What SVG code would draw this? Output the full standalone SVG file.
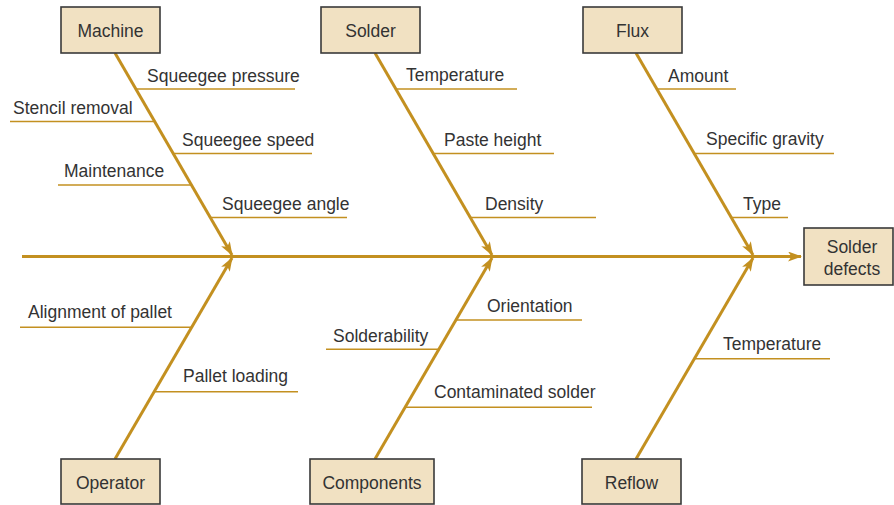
<svg xmlns="http://www.w3.org/2000/svg" width="894" height="505" viewBox="0 0 894 505">
<style>
.box{fill:#F1E1C2;stroke:#3a3a3a;stroke-width:1.6}
.bone{stroke:#C39020;stroke-width:3;fill:none}
.sub{stroke:#C39020;stroke-width:1.6;fill:none}
text{font-family:"Liberation Sans",Arial,sans-serif;font-size:17.5px;fill:#333}
.c{text-anchor:middle}
</style>
<defs>
<marker id="ah" viewBox="0 0 14 10" refX="13" refY="5" markerWidth="14" markerHeight="10" markerUnits="userSpaceOnUse" orient="auto">
<path d="M0,0 L14,5 L0,10 L3.5,5 z" fill="#C39020"/>
</marker>
</defs>
<rect width="894" height="505" fill="#fff"/>
<g id="connectors">
<line class="bone" x1="22" y1="256.5" x2="801" y2="256.5" marker-end="url(#ah)"/>
<line class="bone" x1="115" y1="53" x2="232" y2="255" marker-end="url(#ah)"/>
<line class="bone" x1="375" y1="53" x2="492" y2="255" marker-end="url(#ah)"/>
<line class="bone" x1="636" y1="53" x2="753" y2="255" marker-end="url(#ah)"/>
<line class="bone" x1="115" y1="459" x2="232" y2="258" marker-end="url(#ah)"/>
<line class="bone" x1="375" y1="459" x2="492" y2="258" marker-end="url(#ah)"/>
<line class="bone" x1="636" y1="459" x2="753" y2="258" marker-end="url(#ah)"/>
<line class="sub" x1="136" y1="89" x2="295" y2="89"/>
<line class="sub" x1="10" y1="121.5" x2="154" y2="121.5"/>
<line class="sub" x1="173" y1="153.5" x2="312" y2="153.5"/>
<line class="sub" x1="58" y1="185" x2="191" y2="185"/>
<line class="sub" x1="210" y1="217.5" x2="347" y2="217.5"/>
<line class="sub" x1="396" y1="89" x2="517" y2="89"/>
<line class="sub" x1="433" y1="153.5" x2="554" y2="153.5"/>
<line class="sub" x1="471" y1="217.5" x2="596" y2="217.5"/>
<line class="sub" x1="657" y1="89" x2="736" y2="89"/>
<line class="sub" x1="694" y1="153.5" x2="834" y2="153.5"/>
<line class="sub" x1="732" y1="217.5" x2="788" y2="217.5"/>
<line class="sub" x1="20" y1="327.3" x2="191" y2="327.3"/>
<line class="sub" x1="154" y1="391.7" x2="298" y2="391.7"/>
<line class="sub" x1="326" y1="349.3" x2="439" y2="349.3"/>
<line class="sub" x1="405" y1="407.3" x2="592" y2="407.3"/>
<line class="sub" x1="456" y1="320" x2="582" y2="320"/>
<line class="sub" x1="695" y1="358.7" x2="830" y2="358.7"/>
</g>
<g id="machine"><rect class="box" x="61" y="7" width="99" height="46"/><text class="c" x="110.5" y="37">Machine</text></g>
<g id="solder"><rect class="box" x="321" y="7" width="99" height="46"/><text class="c" x="370.5" y="37">Solder</text></g>
<g id="flux"><rect class="box" x="583" y="7" width="99" height="46"/><text class="c" x="632.5" y="37">Flux</text></g>
<g id="operator"><rect class="box" x="61" y="459" width="99" height="45"/><text class="c" x="110.5" y="489">Operator</text></g>
<g id="components"><rect class="box" x="310" y="459" width="124" height="45"/><text class="c" x="372" y="489">Components</text></g>
<g id="reflow"><rect class="box" x="582" y="459" width="99" height="45"/><text class="c" x="631.5" y="489">Reflow</text></g>
<g id="solder-defects"><rect class="box" x="804" y="228" width="89" height="57"/><text class="c" x="852" y="253">Solder</text><text class="c" x="852" y="275">defects</text></g>
<g id="labels">
<text x="147" y="82">Squeegee pressure</text>
<text x="13" y="113.5">Stencil removal</text>
<text x="182" y="146">Squeegee speed</text>
<text x="64" y="177">Maintenance</text>
<text x="222" y="209.5">Squeegee angle</text>
<text x="406" y="81">Temperature</text>
<text x="444" y="145.5">Paste height</text>
<text x="485" y="209.5">Density</text>
<text x="668" y="82">Amount</text>
<text x="706" y="145">Specific gravity</text>
<text x="743" y="209.5">Type</text>
<text x="28" y="318">Alignment of pallet</text>
<text x="183" y="382">Pallet loading</text>
<text x="333" y="342">Solderability</text>
<text x="434" y="398">Contaminated solder</text>
<text x="487" y="312">Orientation</text>
<text x="723" y="350">Temperature</text>
</g>
</svg>
